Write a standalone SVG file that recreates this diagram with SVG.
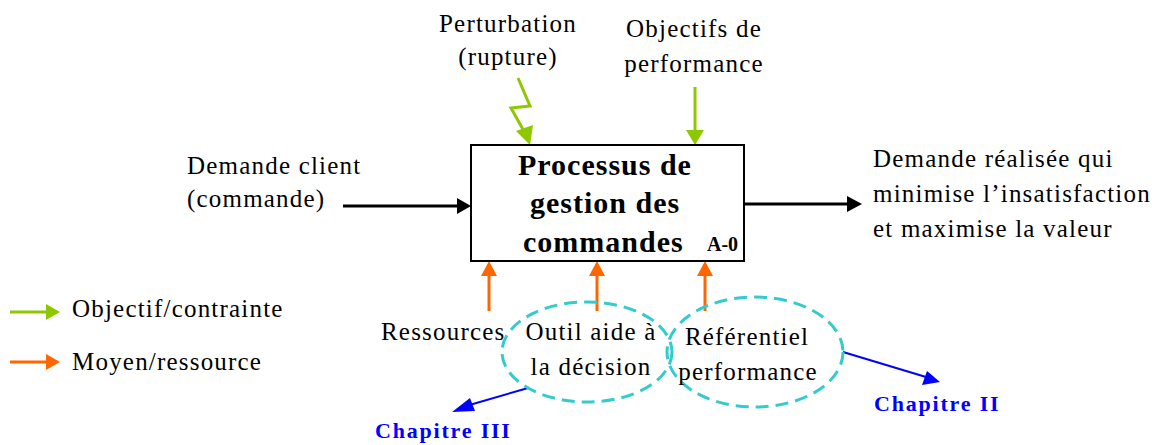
<svg xmlns="http://www.w3.org/2000/svg" width="1154" height="445" viewBox="0 0 1154 445">
<style>
.t{font-family:"Liberation Serif",serif;font-size:25px;letter-spacing:1.2px;fill:#000}
.b{font-family:"Liberation Serif",serif;font-weight:bold;font-size:30px;letter-spacing:1px;fill:#000}
.ch{font-family:"Liberation Serif",serif;font-weight:bold;font-size:22px;letter-spacing:1.8px;fill:#0000FF}
.g{stroke:#8DC800;stroke-width:3;fill:none}
.o{stroke:#FF6600;stroke-width:3;fill:none}
.k{stroke:#000;stroke-width:3;fill:none}
.bl{stroke:#0000FF;stroke-width:2;fill:none}
.el{stroke:#33CCCC;stroke-width:3;fill:none;stroke-dasharray:13 7}
</style>
<rect width="1154" height="445" fill="#fff"/>
<g id="connectors">
<path class="k" d="M343,206 H458"/><path d="M457,198 L471,206 L457,214 z" fill="#000"/>
<path class="k" d="M744,204 H848"/><path d="M847,196 L862,204 L847,212 z" fill="#000"/>
<path class="g" d="M518,78 L530,106 L511,108 L525,133"/><path d="M516,131 L530,145 L533,125 z" fill="#8DC800"/>
<path class="g" d="M695,87 V132"/><path d="M686,130 L695,145 L704,130 z" fill="#8DC800"/>
<path class="o" d="M489,311 V274"/><path d="M481,276 L489,261 L497,276 z" fill="#FF6600"/>
<path class="o" d="M597,311 V274"/><path d="M589,276 L597,261 L605,276 z" fill="#FF6600"/>
<path class="o" d="M705,311 V274"/><path d="M697,276 L705,261 L713,276 z" fill="#FF6600"/>
<path class="bl" d="M528,388 L466,406"/><path d="M470,398 L452,412 L475,411 z" fill="#0000FF"/>
<path class="bl" d="M843,352 L926,377"/><path d="M922,385 L940,382 L927,371 z" fill="#0000FF"/>
<path class="g" d="M10,312 H48"/><path d="M46,304 L60,312 L46,320 z" fill="#8DC800"/>
<path class="o" d="M10,362 H48"/><path d="M46,354 L60,362 L46,370 z" fill="#FF6600"/>
</g>
<g id="process">
<rect x="471" y="145" width="273" height="116" fill="none" stroke="#000" stroke-width="2"/>
<text class="b" x="518" y="175">Processus de</text>
<text class="b" x="530" y="213">gestion des</text>
<text class="b" x="523" y="252">commandes</text>
<text class="b" x="707" y="251" style="font-size:20px;letter-spacing:0">A-0</text>
</g>
<g id="perturbation"><text class="t" x="508" y="32" text-anchor="middle">Perturbation</text><text class="t" x="508" y="65" text-anchor="middle">(rupture)</text></g>
<g id="objectifs"><text class="t" x="694" y="37" text-anchor="middle">Objectifs de</text><text class="t" x="694" y="72" text-anchor="middle">performance</text></g>
<g id="demande"><text class="t" x="187" y="174">Demande client</text><text class="t" x="187" y="207">(commande)</text></g>
<g id="sortie"><text class="t" x="873" y="167">Demande réalisée qui</text><text class="t" x="873" y="202">minimise l’insatisfaction</text><text class="t" x="873" y="237">et maximise la valeur</text></g>
<g id="ressources"><text class="t" x="381" y="340">Ressources</text></g>
<g id="outil"><ellipse class="el" cx="587" cy="352" rx="85" ry="50"/><text class="t" x="591" y="340" text-anchor="middle">Outil aide à</text><text class="t" x="591" y="375" text-anchor="middle">la décision</text></g>
<g id="referentiel"><ellipse class="el" cx="755" cy="352" rx="88" ry="55"/><text class="t" x="747" y="345" text-anchor="middle">Référentiel</text><text class="t" x="748" y="380" text-anchor="middle">performance</text></g>
<g id="chap3"><text class="ch" x="375" y="438">Chapitre III</text></g>
<g id="chap2"><text class="ch" x="874" y="411">Chapitre II</text></g>
<g id="legend"><text class="t" x="72" y="317">Objectif/contrainte</text><text class="t" x="72" y="370">Moyen/ressource</text></g>
</svg>
